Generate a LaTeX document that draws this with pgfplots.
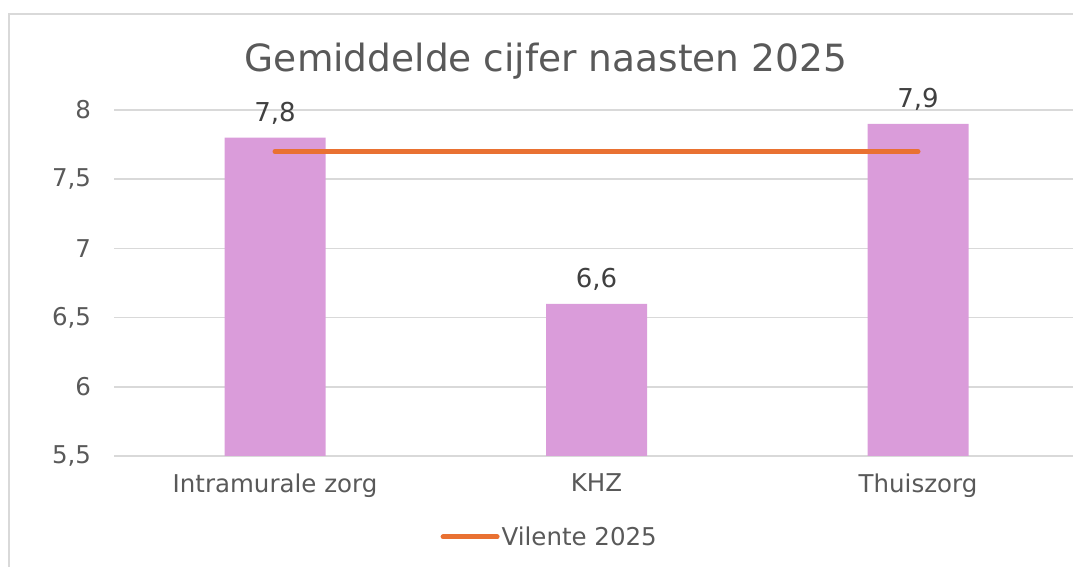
\documentclass[border=0pt]{standalone}
\usepackage{pgfplots}
\pgfplotsset{compat=1.18}
\usepackage{fontspec}
\setmainfont{DejaVu Sans}
\definecolor{barc}{HTML}{DA9CDA}
\definecolor{linec}{HTML}{E97132}
\definecolor{gridc}{HTML}{D9D9D9}
\definecolor{txt}{HTML}{595959}
\definecolor{lbl}{HTML}{404040}
\begin{document}
\begin{tikzpicture}
\path[use as bounding box] (0pt,0pt) rectangle (1073pt,567pt);
\clip (0pt,0pt) rectangle (1073pt,567pt);
\draw[gridc, line width=1.5pt] (9pt,-20pt) -- (9pt,553pt) -- (1100pt,553pt);
\begin{axis}[
  at={(114.25pt,111pt)}, anchor=south west,
  scale only axis, width=964.5pt, height=346pt,
  xmin=-0.5, xmax=2.5, ymin=5.5, ymax=8,
  ytick={5.5,6,6.5,7,7.5,8},
  xtick={0,1,2}, xticklabels={Intramurale zorg, KHZ, Thuiszorg},
  major tick length=0pt,
  axis line style={draw=none},
  ymajorgrids, grid style={gridc, line width=1.5pt},
  tick label style={font=\fontsize{24.5}{28}\selectfont, text=txt},
  /pgf/number format/assume math mode=true,
  /pgf/number format/use comma,
  yticklabel style={anchor=east, inner sep=0pt, xshift=-23pt},
  xticklabel style={yshift=-14pt},
  legend style={at={(0.4515,-0.234)}, anchor=center, draw=none, fill=none,
    font=\fontsize{24.5}{28}\selectfont, text=txt},
  legend image code/.code={\draw[linec, line width=5pt, line cap=round] (0pt,0pt) -- (54pt,0pt);},
]
\addplot[ybar, bar width=101pt, bar shift=0pt, fill=barc, draw=none, forget plot,
  nodes near coords,
  nodes near coords style={font=\fontsize{26}{30}\selectfont, text=lbl, anchor=base, yshift=16pt,
    /pgf/number format/fixed, /pgf/number format/precision=1,
    /pgf/number format/fixed zerofill, /pgf/number format/use comma,
    /pgf/number format/assume math mode=true}]
  coordinates {(0,7.8) (1,6.6) (2,7.9)};
\addplot[linec, line width=5pt, line cap=round] coordinates {(0,7.7) (2,7.7)};
\addlegendentry{Vilente 2025}
\end{axis}
\node[anchor=base, font=\fontsize{37.5}{44}\selectfont, text=txt] at (546pt,495pt) {Gemiddelde cijfer naasten 2025};
\end{tikzpicture}
\end{document}
